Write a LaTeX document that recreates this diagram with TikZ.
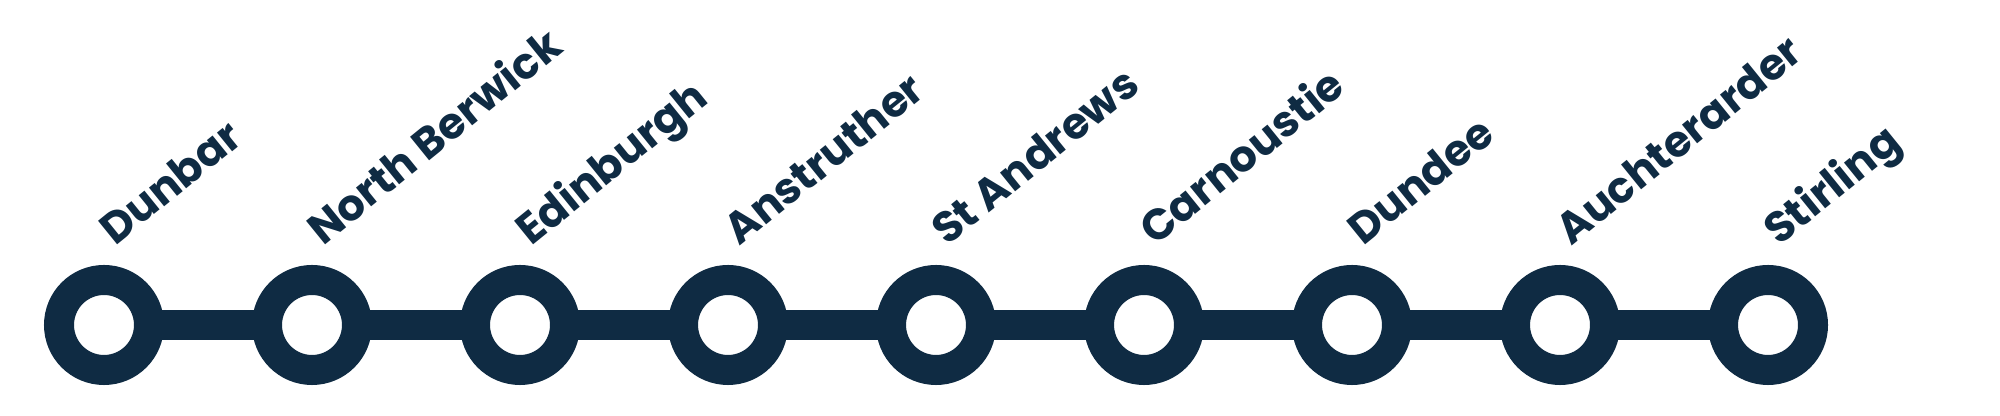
\documentclass[tikz,border=0pt]{standalone}
\usepackage{fontspec}
\setmainfont{Poppins}
\usetikzlibrary{backgrounds}
\definecolor{navy}{HTML}{0F2B43}
\begin{document}
\begin{tikzpicture}[x=0.5pt,y=0.5pt,
  station/.style={circle,draw=navy,fill=white,line width=15pt,minimum size=45pt,inner sep=0pt},
  track/.style={draw=navy,line width=15pt},
  stname/.style={rotate=39,anchor=base west,inner sep=0pt,text=navy,font=\bfseries\fontsize{21.6pt}{24pt}\selectfont}]
\useasboundingbox (0,0) rectangle (2000,416);
\foreach \n/\t [count=\i from 0] in {s1/Dunbar,s2/North Berwick,s3/Edinburgh,s4/Anstruther,s5/St Andrews,s6/Carnoustie,s7/Dundee,s8/Auchterarder,s9/Stirling}{
  \node[station] (\n) at ({104+208*\i},91) {};
  \node[stname] (l\n) at ({115+208*\i},169) {\t};
}
\begin{scope}[on background layer]
\foreach \a/\b in {s1/s2,s2/s3,s3/s4,s4/s5,s5/s6,s6/s7,s7/s8,s8/s9}{
  \draw[track] (\a.center) -- (\b.center);
}
\end{scope}
\end{tikzpicture}
\end{document}
